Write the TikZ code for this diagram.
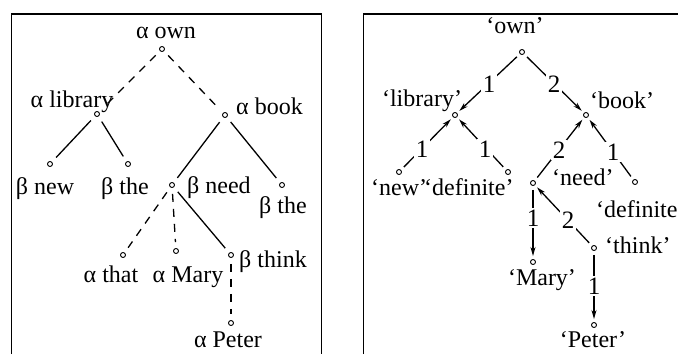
\documentclass[tikz,border=0pt]{standalone}
\usepackage{fontspec}
\setmainfont{Liberation Serif}
\usetikzlibrary{arrows.meta}
\begin{document}
\begin{tikzpicture}[x=1pt,y=-1pt,
  lab/.style={inner sep=0pt,anchor=base,font=\fontsize{24}{28}\selectfont},
  elab/.style={inner sep=1.5pt,fill=white,font=\fontsize{25}{28}\selectfont},
  dot/.style={circle,draw,inner sep=0pt,minimum size=5pt,line width=0.9pt},
  frame/.style={line width=1.6pt},
  subst/.style={line width=1.3pt,dash pattern=on 8pt off 7pt,shorten <=6pt,shorten >=6pt},
  adj/.style={line width=1.3pt,shorten <=6pt,shorten >=6pt},
  dep/.style={line width=1.3pt,-{Stealth[length=9pt,width=5pt]},shorten <=4pt,shorten >=3pt}]
\useasboundingbox (0,0) rectangle (678,354);
\clip (0,0) rectangle (678,354);
% frames
\coordinate (A1) at (11.5,354); \coordinate (A2) at (11.5,14); \coordinate (A3) at (321.5,14); \coordinate (A4) at (321.5,354);
\draw[frame] (A1) -- (A2) -- (A3) -- (A4);
\coordinate (B1) at (363.5,354); \coordinate (B2) at (363.5,14); \coordinate (B3) at (680,14);
\draw[frame] (B1) -- (B2) -- (B3);
% left tree dots
\node[dot] (own) at (162,49) {};
\node[dot] (lib) at (97,114) {};
\node[dot] (book) at (225,115) {};
\node[dot] (new) at (50,164) {};
\node[dot] (theA) at (128,164) {};
\node[dot] (need) at (172,185) {};
\node[dot] (theB) at (282,185) {};
\node[dot] (that) at (123,255) {};
\node[dot] (mary) at (176,251) {};
\node[dot] (think) at (231,255) {};
\node[dot] (peter) at (231,323) {};
% left labels
\node[lab] (tOwn) at (166,38) {α own};
\node[lab] (tLib) at (72,107) {α library};
\node[lab,anchor=base west] (tBook) at (236,114) {α book};
\node[lab] (tNew) at (45,194) {β new};
\node[lab] (tTheA) at (125,194) {β the};
\node[lab,anchor=base west] (tNeed) at (187,193) {β need};
\node[lab] (tTheB) at (283,213) {β the};
\node[lab] (tThat) at (111,282) {α that};
\node[lab] (tMary) at (188,282) {α Mary};
\node[lab,anchor=base west] (tThink) at (239,267) {β think};
\node[lab] (tPeter) at (228,347) {α Peter};
% left edges
\draw[subst] (own) -- (lib);
\draw[subst] (own) -- (book);
\draw[adj] (lib) -- (new);
\draw[adj] (lib) -- (theA);
\draw[adj] (book) -- (need);
\draw[adj] (book) -- (theB);
\draw[subst] (need) -- (that);
\draw[subst] (need) -- (mary);
\draw[adj] (need) -- (think);
\draw[subst] (think) -- (peter);
% right tree dots
\node[dot] (rOwn) at (522,52) {};
\node[dot] (rLib) at (455,115) {};
\node[dot] (rBook) at (586,115) {};
\node[dot] (rNew) at (399,172) {};
\node[dot] (rDefA) at (508,172) {};
\node[dot] (rNeed) at (533,183) {};
\node[dot] (rDefB) at (635,182) {};
\node[dot] (rMary) at (533,262) {};
\node[dot] (rThink) at (594,248) {};
\node[dot] (rPeter) at (594,325) {};
% right labels
\node[lab] (sOwn) at (515,33) {‘own’};
\node[lab] (sLib) at (422,106) {‘library’};
\node[lab,anchor=base west] (sBook) at (590,108) {‘book’};
\node[lab,anchor=base west] (sNew) at (371,195) {‘new’};
\node[lab,anchor=base west] (sDefA) at (424,195) {‘definite’};
\node[lab,anchor=base west] (sNeed) at (552,185) {‘need’};
\node[lab,anchor=base west] (sDefB) at (596,217) {‘definite};
\node[lab,anchor=base west] (sThink) at (605,253) {‘think’};
\node[lab] (sMary) at (542,285) {‘Mary’};
\node[lab] (sPeter) at (593,347) {‘Peter’};
% right edges
\draw[dep] (rOwn) -- (rLib);
\draw[dep] (rOwn) -- (rBook);
\draw[dep] (rNew) -- (rLib);
\draw[dep] (rDefA) -- (rLib);
\draw[dep] (rNeed) -- (rBook);
\draw[dep] (rDefB) -- (rBook);
\draw[dep] (rNeed) -- (rMary);
\draw[dep] (rThink) -- (rNeed);
\draw[dep] (rThink) -- (rPeter);
% edge labels
\node[elab] (e1) at (489,84) {1};
\node[elab] (e2) at (554,84) {2};
\node[elab] (e3) at (422,149) {1};
\node[elab] (e4) at (485,149) {1};
\node[elab] (e5) at (559,150) {2};
\node[elab] (e6) at (613,152) {1};
\node[elab] (e7) at (533,218) {1};
\node[elab] (e8) at (568,220) {2};
\node[elab] (e9) at (594,286) {1};
\end{tikzpicture}
\end{document}
